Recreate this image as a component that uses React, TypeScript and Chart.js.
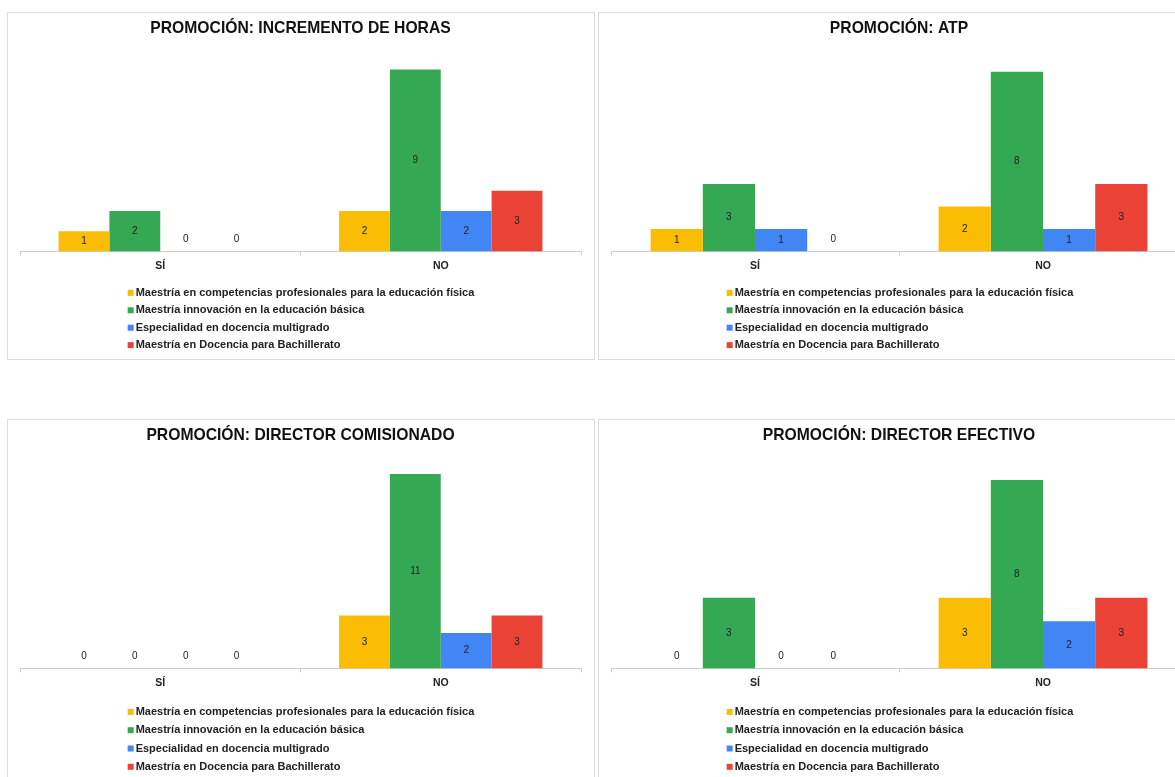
import React, { useEffect, useRef } from "react";
import { Chart, registerables } from "chart.js";

Chart.register(...registerables);

const categories = ["SÍ", "NO"];
const seriesNames = [
  "Maestría en competencias profesionales para la educación física",
  "Maestría innovación en la educación básica",
  "Especialidad en docencia multigrado",
  "Maestría en Docencia para Bachillerato",
];
const seriesColors = ["#FBBC04", "#34A853", "#4285F4", "#EA4335"];

const titles = [
  "PROMOCIÓN: INCREMENTO DE HORAS",
  "PROMOCIÓN: ATP",
  "PROMOCIÓN: DIRECTOR COMISIONADO",
  "PROMOCIÓN: DIRECTOR EFECTIVO",
];

// values per series: [SÍ, NO]
const horasSi = [1, 2, 0, 0];
const horasNo = [2, 9, 2, 3];
const atpSi = [1, 3, 1, 0];
const atpNo = [2, 8, 1, 3];
const comisionadoSi = [0, 0, 0, 0];
const comisionadoNo = [3, 11, 2, 3];
const efectivoSi = [0, 3, 0, 0];
const efectivoNo = [3, 8, 2, 3];

const FONT = "'Liberation Sans', Arial, Helvetica, sans-serif";

type PanelCfg = {
  title: string;
  si: number[];
  no: number[];
  left: number;
  top: number;
  w: number;
  h: number;
  padL: number;
  padR: number;
  padB: number;
  legendOffset: number;
  legendSpacing: number;
};

const panels: PanelCfg[] = [
  { title: titles[0], si: horasSi, no: horasNo, left: 7, top: 12, w: 588, h: 348, padL: 12, padR: 13, padB: 83, legendOffset: 41.5, legendSpacing: 17.4 },
  { title: titles[1], si: atpSi, no: atpNo, left: 598, top: 12, w: 604, h: 348, padL: 12, padR: 14, padB: 83, legendOffset: 41.5, legendSpacing: 17.4 },
  { title: titles[2], si: comisionadoSi, no: comisionadoNo, left: 7, top: 419, w: 588, h: 362, padL: 12, padR: 13, padB: 87, legendOffset: 43.5, legendSpacing: 18.3 },
  { title: titles[3], si: efectivoSi, no: efectivoNo, left: 598, top: 419, w: 604, h: 362, padL: 12, padR: 14, padB: 87, legendOffset: 43.5, legendSpacing: 18.3 },
];

function Panel({ cfg }: { cfg: PanelCfg }) {
  const ref = useRef<HTMLCanvasElement | null>(null);
  useEffect(() => {
    if (!ref.current) return;
    const maxVal = Math.max(...cfg.si, ...cfg.no);
    const valueLabels = {
      id: "valueLabels",
      afterDatasetsDraw(chart: any) {
        const ctx = chart.ctx;
        ctx.save();
        ctx.font = `10px ${FONT}`;
        ctx.fillStyle = "#222";
        ctx.textAlign = "center";
        ctx.textBaseline = "middle";
        chart.data.datasets.forEach((ds: any, di: number) => {
          const meta = chart.getDatasetMeta(di);
          meta.data.forEach((el: any, i: number) => {
            const v = ds.data[i];
            const y = v === 0 ? el.base - 12 : (el.y + el.base) / 2;
            ctx.fillText(String(v), el.x, y);
          });
        });
        ctx.restore();
      },
    };
    const customLegend = {
      id: "customLegend",
      afterDraw(chart: any) {
        const ctx = chart.ctx;
        ctx.save();
        ctx.font = `bold 11px ${FONT}`;
        ctx.textBaseline = "middle";
        ctx.textAlign = "left";
        const dss = chart.data.datasets;
        let maxW = 0;
        dss.forEach((ds: any) => {
          maxW = Math.max(maxW, ctx.measureText(ds.label).width);
        });
        const sq = 6;
        const gap = 2;
        const blockW = sq + gap + maxW;
        const x0 = (chart.width - blockW) / 2;
        dss.forEach((ds: any, i: number) => {
          const y = chart.chartArea.bottom + cfg.legendOffset + i * cfg.legendSpacing;
          ctx.fillStyle = ds.backgroundColor;
          ctx.fillRect(x0, y - sq / 2, sq, sq);
          ctx.fillStyle = "#222";
          ctx.fillText(ds.label, x0 + sq + gap, y);
        });
        ctx.restore();
      },
    };
    const chart = new Chart(ref.current, {
      type: "bar",
      data: {
        labels: categories,
        datasets: seriesNames.map((name, i) => ({
          label: name,
          data: [cfg.si[i], cfg.no[i]],
          backgroundColor: seriesColors[i],
          borderWidth: 0,
          categoryPercentage: 0.725,
          barPercentage: 1,
        })),
      },
      options: {
        responsive: false,
        animation: false,
        devicePixelRatio: 1,
        layout: { padding: { left: cfg.padL, right: cfg.padR, top: 0, bottom: cfg.padB } },
        plugins: {
          legend: { display: false },
          tooltip: { enabled: false },
          title: {
            display: true,
            text: cfg.title,
            color: "#111",
            font: { family: FONT, size: 15.7, weight: "bold" },
            padding: { top: 6.5, bottom: 11 },
          },
        },
        scales: {
          x: {
            grid: {
              display: true,
              drawOnChartArea: false,
              drawTicks: true,
              tickLength: 4,
              color: "#cccccc",
              offset: true,
            },
            border: { display: true, color: "#cccccc" },
            ticks: {
              color: "#222",
              padding: 4,
              font: { family: FONT, size: 10.5, weight: "bold" },
            },
          },
          y: {
            display: false,
            min: 0,
            max: maxVal + 1,
          },
        },
      },
      plugins: [valueLabels, customLegend],
    } as any);
    return () => chart.destroy();
  }, [cfg]);
  return (
    <div
      style={{
        position: "absolute",
        left: cfg.left,
        top: cfg.top,
        width: cfg.w,
        height: cfg.h,
        boxSizing: "border-box",
        border: "1px solid #dcdcdc",
        background: "#fff",
      }}
    >
      <canvas ref={ref} width={cfg.w - 2} height={cfg.h - 2} style={{ display: "block" }} />
    </div>
  );
}

export default function App() {
  return (
    <div
      style={{
        position: "fixed",
        left: 0,
        top: 0,
        width: 1175,
        height: 777,
        overflow: "hidden",
        background: "#fff",
      }}
    >
      {panels.map((p, i) => (
        <Panel key={i} cfg={p} />
      ))}
    </div>
  );
}
